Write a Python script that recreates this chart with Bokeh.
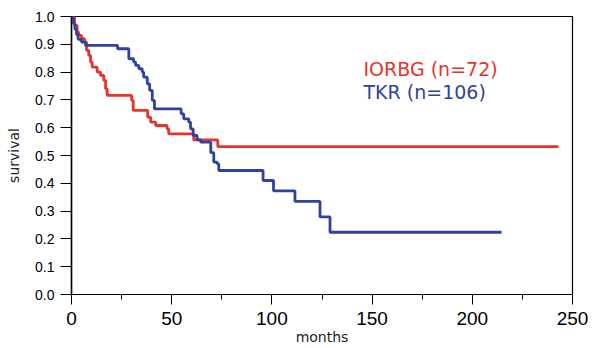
from bokeh.plotting import figure
from bokeh.models import FixedTicker, Range1d, NumeralTickFormatter
from bokeh.core.properties import value
from bokeh.embed import file_html
from bokeh.resources import INLINE

# IORBG (red) Kaplan-Meier steps: time (months) and survival after each step
iorbg_t = [0, 1.5, 2.8, 3.6, 5.0, 6.5, 7.5, 8.6, 9.5, 10.3, 12.8, 14.5, 16.1, 17.0, 17.8,
           30.0, 30.8, 38.0, 39.5, 42.0, 47.7, 48.5, 61.0, 73.0, 243.0]
iorbg_s = [1.0, 0.968, 0.944, 0.932, 0.92, 0.908, 0.878, 0.86, 0.836, 0.818, 0.80, 0.788, 0.77, 0.74, 0.716,
           0.698, 0.662, 0.638, 0.62, 0.608, 0.596, 0.578, 0.556, 0.532, 0.532]

# TKR (blue)
tkr_t = [0, 1.0, 1.7, 2.5, 3.3, 5.0, 7.0, 23.0, 28.6, 31.0, 32.0, 33.6, 35.3, 36.0, 37.8, 39.0,
         40.3, 41.4, 54.7, 56.0, 58.5, 59.4, 60.7, 62.7, 64.5, 69.5, 71.0, 72.7, 73.5,
         95.6, 100.8, 111.5, 124.0, 129.0, 214.6]
tkr_s = [1.0, 0.975, 0.954, 0.935, 0.918, 0.908, 0.896, 0.884, 0.848, 0.836, 0.824, 0.812, 0.80, 0.782, 0.758, 0.734,
         0.698, 0.668, 0.65, 0.632, 0.62, 0.596, 0.572, 0.556, 0.548, 0.51, 0.476, 0.47, 0.446,
         0.41, 0.373, 0.335, 0.279, 0.224, 0.224]

x_ticks = [0, 50, 100, 150, 200, 250]
x_minor = [25, 75, 125, 175, 225]
y_ticks = [0.0, 0.1, 0.2, 0.3, 0.4, 0.5, 0.6, 0.7, 0.8, 0.9, 1.0]

legend_labels = ["IORBG (n=72)", "TKR (n=106)"]
RED = "#e6342b"
BLUE = "#3042a0"

p = figure(width=598, height=348, output_backend="svg", toolbar_location=None,
           x_range=Range1d(0, 250), y_range=Range1d(0, 1),
           min_border_left=71, min_border_right=26, min_border_top=16, min_border_bottom=54)
p.grid.visible = False
p.outline_line_color = "black"
p.outline_line_width = 1.2
p.background_fill_color = "white"
p.border_fill_color = "white"

p.step(iorbg_t, iorbg_s, mode="after", line_color=RED, line_width=2.8)
p.step(tkr_t, tkr_s, mode="after", line_color=BLUE, line_width=2.8)

xa = p.xaxis[0]
xa.ticker = FixedTicker(ticks=x_ticks, minor_ticks=x_minor)
xa.major_tick_out = 10
xa.major_tick_in = 0
xa.minor_tick_out = 5
xa.minor_tick_in = 0
xa.axis_line_color = "black"
xa.axis_line_width = 1.2
xa.major_tick_line_color = "black"
xa.minor_tick_line_color = "black"
xa.major_label_text_font = "Liberation Sans"
xa.major_label_text_font_size = "19px"
xa.major_label_text_color = "black"
xa.major_label_standoff = 7
xa.axis_label = "months"
xa.axis_label_text_font = "DejaVu Sans"
xa.axis_label_text_font_size = "14px"
xa.axis_label_text_font_style = "normal"
xa.axis_label_text_color = "#222222"
xa.axis_label_standoff = 1

ya = p.yaxis[0]
ya.ticker = FixedTicker(ticks=y_ticks, minor_ticks=[])
ya.formatter = NumeralTickFormatter(format="0.0")
ya.major_tick_out = 11
ya.major_tick_in = 0
ya.axis_line_color = "black"
ya.axis_line_width = 1.5
ya.major_tick_line_color = "black"
ya.major_label_text_font = "Liberation Sans"
ya.major_label_text_font_size = "14px"
ya.major_label_text_color = "black"
ya.major_label_standoff = 6
ya.axis_label = "survival"
ya.axis_label_text_font = "DejaVu Sans"
ya.axis_label_text_font_size = "14px"
ya.axis_label_text_font_style = "normal"
ya.axis_label_text_color = "#222222"
ya.axis_label_standoff = 10

p.text(x=[145.7, 145.7], y=[0.812, 0.728], text=legend_labels, text_color=[RED, BLUE],
       text_font=value("DejaVu Sans"), text_font_size="19px", text_baseline="alphabetic")

open("out.html", "w").write(file_html(p, INLINE))
